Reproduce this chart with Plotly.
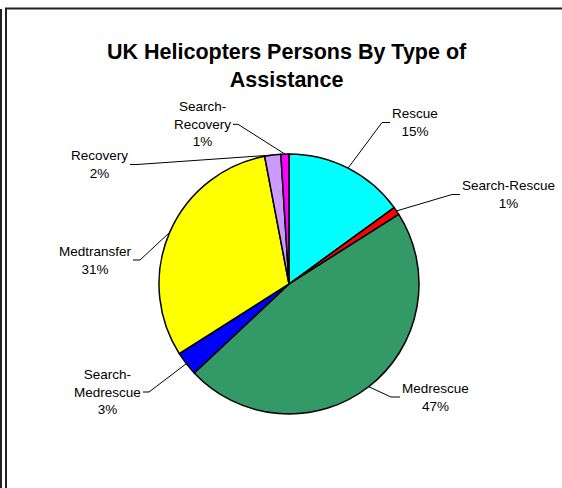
import math
import plotly.graph_objects as go

# ---- data ----
categories = ["Rescue", "Search-Rescue", "Medrescue", "Search-Medrescue",
              "Medtransfer", "Recovery", "Search-Recovery"]
values = [15, 1, 47, 3, 31, 2, 1]
label_texts = ["Rescue", "Search-Rescue", "Medrescue", "Search-<br>Medrescue",
               "Medtransfer", "Recovery", "Search-<br>Recovery"]
title_text = "UK Helicopters Persons By Type of<br>Assistance"

# ---- styles ----
colors = ["#00FFFF", "#FF0000", "#339966", "#0000FF", "#FFFF00", "#CC99FF", "#FF00FF"]
W, H = 562, 488
CX, CY, R = 289, 284, 130  # pie centre / radius in pixels
# label centre (px) and leader horizontal segment (end x, elbow x, y)
label_pos = [(415, 122.5), (508, 194.5), (436, 397), (107, 392),
             (95, 260), (99, 164.5), (202, 124.3)]
leader_seg = [(390, 382, 122.5), (460, 452, 194.5), (400, 391, 397),
              (143, 149, 392), (133, 140, 260), (130, 137, 164.5), (233, 238, 124.3)]
FONT = "Liberation Sans, Arial, sans-serif"


def px(x):
    return x / W


def py(y):
    return 1 - y / H


fig = go.Figure()
fig.add_trace(go.Pie(
    labels=categories, values=values, sort=False, direction="clockwise",
    rotation=0, textinfo="none", showlegend=False, hoverinfo="skip",
    marker=dict(colors=colors, line=dict(color="black", width=1.5)),
    domain=dict(x=[px(CX - R), px(CX + R)], y=[py(CY + R), py(CY - R)]),
))

total = sum(values)
shapes = []
annotations = []
cum = 0
for i, v in enumerate(values):
    mid = (cum + v / 2) / total * 2 * math.pi
    cum += v
    ex = CX + R * math.sin(mid)
    ey = CY - R * math.cos(mid)
    endx, elbx, sy = leader_seg[i]
    shapes.append(dict(
        type="path", xref="paper", yref="paper",
        path=f"M {px(ex)},{py(ey)} L {px(elbx)},{py(sy)} L {px(endx)},{py(sy)}",
        line=dict(color="black", width=1)))
    pct = round(v / total * 100)
    lx, ly = label_pos[i]
    annotations.append(dict(
        x=px(lx), y=py(ly), xref="paper", yref="paper",
        text=f"{label_texts[i]}<br>{pct}%", showarrow=False, align="center",
        xanchor="center", yanchor="middle",
        font=dict(family=FONT, size=13.5, color="black")))

annotations.append(dict(
    x=px(287), y=py(66), xref="paper", yref="paper", text=f"<b>{title_text}</b>",
    showarrow=False, align="center", xanchor="center", yanchor="middle",
    font=dict(family=FONT, size=21.5, color="black")))

# frame lines
shapes += [
    dict(type="line", xref="paper", yref="paper", x0=px(1), x1=px(1), y0=py(9), y1=py(490),
         line=dict(color="#222", width=2)),
    dict(type="line", xref="paper", yref="paper", x0=px(6), x1=px(6), y0=py(8), y1=py(490),
         line=dict(color="#222", width=2)),
    dict(type="line", xref="paper", yref="paper", x0=px(5), x1=px(564), y0=py(8.5), y1=py(8.5),
         line=dict(color="#222", width=2)),
]

fig.update_layout(
    width=W, height=H, margin=dict(l=0, r=0, t=0, b=0),
    paper_bgcolor="white", plot_bgcolor="white",
    shapes=shapes, annotations=annotations,
    font=dict(family=FONT),
)
fig.write_html(
    "out.html",
    config={"displayModeBar": False},
    post_script="document.body.style.margin='0';document.body.style.overflow='hidden';",
)
